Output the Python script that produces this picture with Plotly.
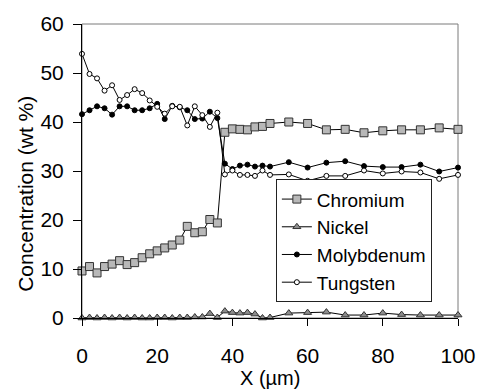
import plotly.graph_objects as go

# Sampling positions across the diffusion zone (µm)
x_um = [0, 2, 4, 6, 8, 10, 12, 14, 16, 18, 20, 22, 24, 26, 28, 30, 32, 34, 36,
        38, 40, 42, 44, 46, 48, 50, 55, 60, 65, 70, 75, 80, 85, 90, 95, 100]

# Concentrations (wt %)
chromium = [9.6, 10.5, 9.2, 10.5, 11.0, 11.7, 10.9, 11.3, 12.3, 13.1, 13.7, 14.3, 14.9, 15.9, 18.7, 17.4, 17.6, 20.1, 19.4,
            37.9, 38.6, 38.5, 38.4, 39.0, 39.1, 39.7, 40.0, 39.7, 38.4, 38.5, 37.8, 38.2, 38.4, 38.4, 38.8, 38.5]
nickel = [0.0, 0.1, 0.0, 0.1, 0.0, 0.1, 0.0, 0.1, 0.0, 0.0, 0.1, 0.1, 0.0, 0.1, 0.1, 0.2, 0.2, 0.9, 0.1,
          1.4, 1.1, 1.0, 1.1, 0.8, 0.0, 0.1, 1.0, 1.1, 1.2, 0.6, 0.6, 1.0, 0.7, 0.6, 0.6, 0.6]
molybdenum = [41.6, 42.4, 43.2, 42.8, 41.5, 43.2, 43.2, 42.4, 42.4, 42.8, 43.7, 40.6, 43.3, 43.0, 42.4, 40.6, 40.7, 42.1, 40.8,
              31.5, 30.4, 31.1, 31.3, 30.9, 31.1, 30.9, 31.8, 30.7, 31.7, 32.0, 31.0, 30.8, 30.8, 31.3, 29.9, 30.7]
tungsten = [53.9, 49.8, 48.9, 46.4, 47.5, 44.5, 45.5, 46.7, 45.9, 44.4, 43.1, 41.7, 43.2, 43.1, 39.3, 43.2, 41.4, 39.0, 41.9,
            29.3, 30.1, 29.2, 29.2, 29.0, 30.1, 29.2, 29.3, 28.0, 29.0, 29.0, 30.1, 29.5, 29.9, 29.7, 28.4, 29.2]

x_ticks = [0, 20, 40, 60, 80, 100]
y_ticks = [0, 10, 20, 30, 40, 50, 60]

FONT = "Liberation Sans, Arial, sans-serif"

series = [
    ("Chromium", chromium, dict(symbol="square", size=8, color="#b8b8b8",
                                line=dict(color="#333333", width=1))),
    ("Nickel", nickel, dict(symbol="triangle-up", size=7, color="#8c8c8c",
                            line=dict(color="#333333", width=1))),
    ("Molybdenum", molybdenum, dict(symbol="circle", size=5, color="#000000",
                                    line=dict(color="#000000", width=1))),
    ("Tungsten", tungsten, dict(symbol="circle", size=5, color="#ffffff",
                                line=dict(color="#000000", width=1))),
]

fig = go.Figure()
for name, values, marker in series:
    fig.add_trace(go.Scatter(
        x=x_um, y=values, name=name, mode="lines+markers",
        line=dict(color="#000000", width=1),
        marker=marker, cliponaxis=False,
    ))

# Plot-area frame (grey), drawn beneath the black axis lines
fig.add_shape(type="rect", xref="x domain", yref="y domain",
              x0=0, x1=1, y0=0, y1=1, line=dict(color="#7a7a7a", width=1),
              layer="below")

fig.add_annotation(text="Concentration (wt %)", textangle=-90,
                   xref="paper", yref="paper", x=-0.15, y=0.421,
                   xanchor="center", yanchor="middle", showarrow=False,
                   font=dict(family=FONT, size=21, color="#000000"))
fig.add_annotation(text="X (\u00b5m)", xref="paper", yref="paper",
                   x=0.5, y=-0.205, xanchor="center", yanchor="middle",
                   showarrow=False,
                   font=dict(family=FONT, size=20, color="#000000"))

fig.update_layout(
    width=488, height=392,
    margin=dict(l=82, r=22, t=14, b=74),
    paper_bgcolor="white", plot_bgcolor="white",
    font=dict(family=FONT, size=21, color="#000000"),
    showlegend=True,
    legend=dict(x=0.5156, y=0.472, xanchor="left", yanchor="top",
                bgcolor="white", bordercolor="#222222", borderwidth=1,
                font=dict(family=FONT, size=19, color="#000000"),
                itemwidth=30, tracegroupgap=0),
    xaxis=dict(range=[0, 100], tickvals=x_ticks, showgrid=False, zeroline=False,
               showline=True, linecolor="#000000", linewidth=1,
               ticks="outside", ticklen=7, tickcolor="#000000",
               ticklabelstandoff=12),
    yaxis=dict(range=[0, 60], tickvals=y_ticks, showgrid=False, zeroline=False,
               showline=True, linecolor="#000000", linewidth=1,
               ticks="outside", ticklen=8, tickcolor="#000000",
               ticklabelstandoff=5),
)

fig.write_html("out.html")
